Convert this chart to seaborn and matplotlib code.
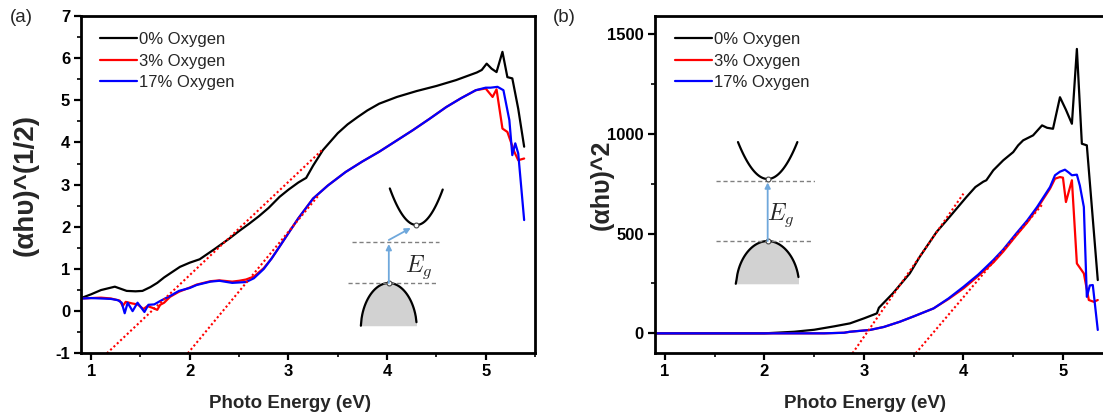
import matplotlib
matplotlib.use("Agg")
import matplotlib.pyplot as plt
import numpy as np
import seaborn as sns
from matplotlib.ticker import MultipleLocator

# ---- panel (a): (alpha h nu)^(1/2) vs photon energy ----
a_x_0 = [0.91, 1.0, 1.1, 1.24, 1.36, 1.45, 1.52, 1.6, 1.67, 1.74, 1.81, 1.9, 2.0, 2.1,
         2.25, 2.4, 2.5, 2.6, 2.7, 2.8, 2.91, 3.0, 3.1, 3.15, 3.18, 3.25, 3.35, 3.5,
         3.6, 3.7, 3.8, 3.92, 4.1, 4.3, 4.5, 4.7, 4.91, 4.96, 5.01, 5.06, 5.11, 5.17,
         5.22, 5.27, 5.33, 5.39]
a_y_0 = [0.32, 0.4, 0.5, 0.58, 0.48, 0.47, 0.48, 0.57, 0.67, 0.8, 0.91, 1.05, 1.15, 1.23,
         1.47, 1.72, 1.9, 2.07, 2.25, 2.45, 2.71, 2.88, 3.05, 3.12, 3.16, 3.45, 3.82, 4.22,
         4.43, 4.6, 4.76, 4.92, 5.08, 5.22, 5.34, 5.48, 5.66, 5.72, 5.87, 5.75, 5.67, 6.15,
         5.55, 5.52, 4.8, 3.9]

a_x_3 = [0.91, 1.0, 1.1, 1.2, 1.29, 1.32, 1.35, 1.42, 1.47, 1.53, 1.57, 1.62, 1.67, 1.7,
         1.74, 1.8, 1.89, 2.0, 2.07, 2.21, 2.3, 2.43, 2.5, 2.57, 2.65, 2.75, 2.83, 2.91,
         3.0, 3.1, 3.25, 3.4, 3.58, 3.75, 3.92, 4.1, 4.26, 4.43, 4.6, 4.75, 4.9, 5.0,
         5.07, 5.11, 5.17, 5.22, 5.29, 5.33, 5.39]
a_y_3 = [0.3, 0.31, 0.32, 0.3, 0.25, 0.12, 0.22, 0.18, 0.16, 0.05, 0.12, 0.08, 0.03, 0.15,
         0.2, 0.34, 0.46, 0.56, 0.63, 0.71, 0.73, 0.7, 0.72, 0.75, 0.82, 1.02, 1.25, 1.53,
         1.85, 2.2, 2.67, 2.98, 3.3, 3.55, 3.78, 4.05, 4.29, 4.56, 4.84, 5.05, 5.24, 5.28,
         5.08, 5.26, 4.33, 4.25, 3.78, 3.58, 3.62]

a_x_17 = [0.91, 1.0, 1.1, 1.2, 1.27, 1.31, 1.34, 1.37, 1.42, 1.47, 1.54, 1.58, 1.64, 1.7,
          1.8, 1.89, 2.0, 2.07, 2.21, 2.3, 2.43, 2.5, 2.57, 2.65, 2.75, 2.83, 2.91, 3.0,
          3.1, 3.25, 3.4, 3.58, 3.75, 3.92, 4.1, 4.26, 4.43, 4.6, 4.75, 4.9, 5.0, 5.05,
          5.12, 5.18, 5.24, 5.27, 5.3, 5.33, 5.39]
a_y_17 = [0.3, 0.31, 0.3, 0.29, 0.26, 0.2, -0.05, 0.2, 0.0, 0.2, -0.02, 0.15, 0.16, 0.24,
          0.36, 0.48, 0.55, 0.62, 0.7, 0.72, 0.67, 0.68, 0.69, 0.78, 1.0, 1.25, 1.53, 1.85,
          2.2, 2.67, 2.98, 3.3, 3.55, 3.78, 4.05, 4.29, 4.56, 4.84, 5.05, 5.24, 5.3, 5.3,
          5.32, 5.24, 4.53, 3.7, 3.98, 3.74, 2.16]

a_fit_x = [[1.16, 3.35], [1.98, 3.3]]
a_fit_y = [[-1.0, 3.84], [-1.0, 2.73]]

# ---- panel (b): (alpha h nu)^2 vs photon energy ----
b_x_0 = [0.91, 1.5, 2.0, 2.3, 2.5, 2.7, 2.86, 3.0, 3.13, 3.15, 3.29, 3.46, 3.56, 3.73,
         3.86, 4.03, 4.12, 4.2, 4.23, 4.3, 4.4, 4.5, 4.55, 4.6, 4.7, 4.79, 4.84, 4.9,
         4.97, 5.03, 5.09, 5.14, 5.19, 5.24, 5.35]
b_y_0 = [0.0, 0.0, 0.0, 8, 18, 35, 50, 75, 100, 128, 200, 300, 383, 508,
         583, 683, 733, 760, 767, 817, 867, 908, 942, 967, 992, 1042, 1030, 1025,
         1183, 1120, 1050, 1425, 950, 942, 267]

b_x_3 = [0.91, 1.5, 2.0, 2.6, 2.8, 2.86, 3.06, 3.2, 3.36, 3.5, 3.7, 3.85, 4.0, 4.15,
         4.3, 4.4, 4.53, 4.64, 4.74, 4.87, 4.92, 4.97, 5.0, 5.03, 5.09, 5.14, 5.21,
         5.26, 5.31, 5.35]
b_y_3 = [0.0, 0.0, 0.0, 0.0, 3, 8, 17, 32, 58, 85, 125, 172, 225, 288,
         355, 410, 490, 555, 625, 725, 775, 783, 780, 658, 767, 350, 300,
         167, 158, 167]

b_x_17 = [0.91, 1.5, 2.0, 2.6, 2.8, 2.86, 3.06, 3.2, 3.36, 3.5, 3.7, 3.85, 4.0, 4.15,
          4.3, 4.4, 4.53, 4.64, 4.74, 4.87, 4.92, 4.97, 5.02, 5.06, 5.09, 5.14, 5.17,
          5.21, 5.24, 5.27, 5.3, 5.35]
b_y_17 = [0.0, 0.0, 0.0, 0.0, 3, 8, 17, 32, 58, 85, 125, 175, 233, 295,
          367, 420, 500, 565, 633, 733, 792, 810, 820, 805, 792, 795, 740,
          633, 183, 240, 242, 17]

b_fit_x = [[2.885, 4.0], [3.52, 4.8]]
b_fit_y = [[-100, 700], [-100, 650]]

labels = ["0% Oxygen", "3% Oxygen", "17% Oxygen"]
colors = ["#000000", "#ff0000", "#0000ff"]

sns.set_theme(style="ticks")
plt.rcParams["font.family"] = ["Liberation Sans", "DejaVu Sans"]
plt.rcParams["mathtext.fontset"] = "cm"
plt.rcParams["axes.unicode_minus"] = False

W, H = 1103, 420
fig = plt.figure(figsize=(W / 100, H / 100), dpi=100)
ax_a = fig.add_axes([81.3 / W, (H - 353.3) / H, 453.7 / W, 337.3 / H])
ax_b = fig.add_axes([655 / W, (H - 353.3) / H, 457.7 / W, 337.3 / H])


def plot_panel(ax, xs, ys, fit_x, fit_y):
    for x, y, c, lab in zip(xs, ys, colors, labels):
        sns.lineplot(x=x, y=y, ax=ax, color=c, lw=1.6, label=lab,
                     sort=False, estimator=None)
    for fx, fy in zip(fit_x, fit_y):
        sns.lineplot(x=fx, y=fy, ax=ax, color="#ff0000", lw=1.5,
                     linestyle=(0, (1, 1.2)), sort=False, estimator=None)


def style_axes(ax, ymajor, yminor, leg_x):
    ax.xaxis.set_major_locator(MultipleLocator(1))
    ax.xaxis.set_minor_locator(MultipleLocator(0.5))
    ax.yaxis.set_major_locator(MultipleLocator(ymajor))
    ax.yaxis.set_minor_locator(MultipleLocator(yminor))
    for s in ax.spines.values():
        s.set_visible(True)
        s.set_linewidth(2.0)
        s.set_color("black")
    ax.tick_params(which="major", direction="out", length=5, width=1.6,
                   labelsize=12, colors="black", top=False, right=False, pad=3)
    ax.tick_params(which="minor", direction="out", length=3, width=1.4,
                   top=False, right=False)
    for t in ax.get_xticklabels() + ax.get_yticklabels():
        t.set_fontweight("bold")
    ax.set_xlabel("Photo Energy (eV)", fontsize=13.5, fontweight="bold")
    ax.legend(loc="upper left", bbox_to_anchor=(leg_x, 0.952), frameon=False,
              fontsize=12, handlelength=2.2, handletextpad=0.15,
              labelspacing=0.38, borderpad=0, borderaxespad=0)


def draw_band(ax, box, cb, vb, dash_hi, dash_lo, arrows, eg_pos):
    ins = ax.inset_axes(box)
    ins.set_xlim(0, 100)
    ins.set_ylim(0, 145)
    ins.axis("off")
    ins.patch.set_visible(False)
    # conduction band
    cx0, cx1, cmin_x, cmin_y, ctop = cb
    u = np.linspace(cx0, cx1, 60)
    half = (cx1 - cx0) / 2
    ins.plot(u, cmin_y + (ctop - cmin_y) * ((u - cmin_x) / half) ** 2, color="black", lw=1.6)
    # valence band
    vx0, vx1, vtop_x, vtop_y, vbot = vb
    v = np.linspace(vx0, vx1, 80)
    vh = (vx1 - vx0) / 2
    dome = vbot + (vtop_y - vbot) * np.clip(1 - ((v - vtop_x) / vh) ** 2, 0, 1) ** 0.55
    ins.fill_between(v, vbot, dome, color="#d2d2d2", lw=0)
    ins.plot(v, dome, color="black", lw=1.6)
    for d in (dash_hi, dash_lo):
        ins.plot([d[0], d[1]], [d[2], d[2]], color="#808080", lw=1.0, ls=(0, (3, 2)))
    for (x0, y0, x1, y1) in arrows:
        ins.annotate("", xy=(x1, y1), xytext=(x0, y0),
                     arrowprops=dict(arrowstyle="-|>", color="#6fa8dc", lw=1.3,
                                     mutation_scale=8, shrinkA=0, shrinkB=0))
    ins.plot([vtop_x, cmin_x], [vtop_y, cmin_y], ls="none", marker="o", ms=3.5,
             mfc="white", mec="#444444", mew=0.8)
    ins.text(eg_pos[0], eg_pos[1], r"$E_g$", fontsize=17, ha="center", va="center")


plot_panel(ax_a, [a_x_0, a_x_3, a_x_17], [a_y_0, a_y_3, a_y_17], a_fit_x, a_fit_y)
ax_a.set_xlim(0.9, 5.5)
ax_a.set_ylim(-1, 7)
style_axes(ax_a, 1, 0.5, 0.041)
ax_a.set_ylabel("(αhυ)^(1/2)", fontsize=20, fontweight="bold")
ax_a.yaxis.set_label_coords(-0.093, 0.5)
ax_a.xaxis.set_label_coords(0.46, -0.125)

plot_panel(ax_b, [b_x_0, b_x_3, b_x_17], [b_y_0, b_y_3, b_y_17], b_fit_x, b_fit_y)
ax_b.set_xlim(0.9, 5.5)
ax_b.set_ylim(-100, 1590)
style_axes(ax_b, 500, 250, 0.044)
ax_b.set_ylabel("(αhυ)^2", fontsize=18, fontweight="bold")
ax_b.yaxis.set_label_coords(-0.09, 0.5)
ax_b.xaxis.set_label_coords(0.459, -0.125)

# band diagram insets
draw_band(ax_a, [0.581, 0.069, 0.22, 0.43],
          (45, 98, 71.7, 105, 141), (16, 71.7, 44, 47, 4.3),
          (6.7, 94, 88.3), (3, 91, 47),
          [(44, 47, 44, 86), (44, 90, 66, 102)], (74, 63))
draw_band(ax_b, [0.1092, 0.1877, 0.2403, 0.4447],
          (30, 84, 57, 107.3, 143), (28, 85, 57, 47.3, 6),
          (10, 101.7, 105), (10, 97, 47.3),
          [(57, 47.3, 57, 104)], (69, 72))

fig.text(10 / W, 1 - 18 / H, "(a)", fontsize=13.5, va="center", ha="left")
fig.text(553 / W, 1 - 18 / H, "(b)", fontsize=13.5, va="center", ha="left")

fig.savefig("out.png", dpi=100)
